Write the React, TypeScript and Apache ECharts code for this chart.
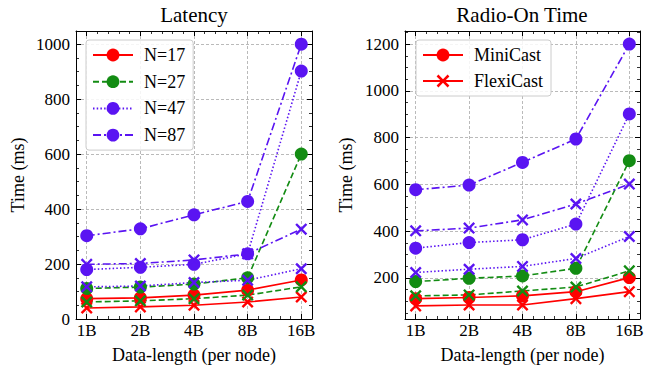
import React, { useEffect, useRef } from 'react';
import * as echarts from 'echarts';

// ---------- data ----------
const categories = ['1B', '2B', '4B', '8B', '16B'];
const latencyTicks = [0, 200, 400, 600, 800, 1000];
const radioTicks = [200, 400, 600, 800, 1000, 1200];

// Latency (ms)
const lat17Mini = [74, 77, 87, 105, 142];
const lat17Flexi = [40, 44, 50, 62, 80];
const lat27Mini = [111, 116, 127, 150, 600];
const lat27Flexi = [62, 66, 74, 87, 117];
const lat47Mini = [180, 188, 199, 237, 902];
const lat47Flexi = [117, 120, 133, 141, 183];
const lat87Mini = [303, 328, 379, 428, 1000];
const lat87Flexi = [199, 202, 215, 237, 327];

// Radio-on time (ms)
const rad17Mini = [111, 116, 123, 141, 201];
const rad17Flexi = [80, 84, 84, 111, 141];
const rad27Mini = [184, 198, 208, 241, 701];
const rad27Flexi = [123, 127, 144, 161, 230];
const rad47Mini = [327, 351, 363, 430, 901];
const rad47Flexi = [223, 237, 249, 283, 377];
const rad87Mini = [577, 597, 694, 794, 1200];
const rad87Flexi = [401, 413, 448, 516, 601];

// ---------- styles ----------
const RED = '#ff0000';
const GREEN = '#138c13';
const PURPLE = '#5a14f2';
const FONT = '"Liberation Serif", "Times New Roman", serif';
const CROSS =
  'path://M0,1.4L1.4,0L5,3.6L8.6,0L10,1.4L6.4,5L10,8.6L8.6,10L5,6.4L1.4,10L0,8.6L3.6,5Z';

const groups = [
  { label: 'N=17', color: RED, dash: 'solid' as any },
  { label: 'N=27', color: GREEN, dash: [6, 3] },
  { label: 'N=47', color: PURPLE, dash: [1.5, 2.2] },
  { label: 'N=87', color: PURPLE, dash: [8, 3, 2, 3] },
];

const latMini = [lat17Mini, lat27Mini, lat47Mini, lat87Mini];
const latFlexi = [lat17Flexi, lat27Flexi, lat47Flexi, lat87Flexi];
const radMini = [rad17Mini, rad27Mini, rad47Mini, rad87Mini];
const radFlexi = [rad17Flexi, rad27Flexi, rad47Flexi, rad87Flexi];

const X_MIN = -0.2;
const X_MAX = 4.2;
const xMajor = categories.map((_, i) => i);
const xMinor: number[] = [];
for (let k = -1; k <= 21; k++) {
  const v = Math.round(k * 20) / 100;
  if (k % 5 !== 0 && v > X_MIN && v < X_MAX) xMinor.push(v);
}
function yMinorList(min: number, max: number) {
  const out: number[] = [];
  for (let v = 0; v <= max; v += 50) if (v % 200 !== 0 && v > min && v < max) out.push(v);
  return out;
}

const LAT_MIN = 0, LAT_MAX = 1048;
const RAD_MIN = 24, RAD_MAX = 1256;

const black = '#000';

function xAxesFor(gridIndex: number) {
  const base = { type: 'value', gridIndex, min: X_MIN, max: X_MAX, splitLine: { show: false }, axisLabel: { show: false } };
  return [
    {
      ...base,
      position: 'bottom',
      axisLine: { show: true, onZero: false, lineStyle: { color: black, width: 1 } },
      axisTick: { show: true, inside: true, length: 5, customValues: xMajor, lineStyle: { color: black, width: 1 } },
      axisLabel: {
        show: true,
        customValues: xMajor,
        formatter: (v: number) => categories[Math.round(v)],
        color: black,
        fontSize: 17,
        fontFamily: FONT,
        margin: 3,
      },
      splitLine: { show: true, lineStyle: { type: [3, 2], color: '#a8a8a8', width: 0.8 } },
      name: 'Data-length (per node)',
      nameLocation: 'middle',
      nameGap: 27,
      nameTextStyle: { color: black, fontSize: 18, fontFamily: FONT },
    },
    {
      ...base,
      position: 'bottom',
      axisLine: { show: false, onZero: false },
      axisTick: { show: true, inside: true, length: 3, customValues: xMinor, lineStyle: { color: black, width: 0.8 } },
    },
    {
      ...base,
      position: 'top',
      axisLine: { show: true, onZero: false, lineStyle: { color: black, width: 1 } },
      axisTick: { show: true, inside: true, length: 5, customValues: xMajor, lineStyle: { color: black, width: 1 } },
    },
    {
      ...base,
      position: 'top',
      axisLine: { show: false, onZero: false },
      axisTick: { show: true, inside: true, length: 3, customValues: xMinor, lineStyle: { color: black, width: 0.8 } },
    },
  ];
}

function yAxesFor(gridIndex: number, min: number, max: number, ticks: number[], nameGap: number) {
  const minor = yMinorList(min, max);
  const base = { type: 'value', gridIndex, min, max, splitLine: { show: false }, axisLabel: { show: false } };
  return [
    {
      ...base,
      position: 'left',
      axisLine: { show: true, onZero: false, lineStyle: { color: black, width: 1 } },
      axisTick: { show: true, inside: true, length: 5, customValues: ticks, lineStyle: { color: black, width: 1 } },
      axisLabel: {
        show: true,
        customValues: ticks,
        formatter: (v: number) => String(Math.round(v)),
        color: black,
        fontSize: 17,
        fontFamily: FONT,
        margin: 6,
      },
      splitLine: { show: true, lineStyle: { type: [3, 2], color: '#a8a8a8', width: 0.8 } },
      name: 'Time (ms)',
      nameLocation: 'middle',
      nameGap,
      nameTextStyle: { color: black, fontSize: 18, fontFamily: FONT },
    },
    {
      ...base,
      position: 'left',
      axisLine: { show: false, onZero: false },
      axisTick: { show: true, inside: true, length: 3, customValues: minor, lineStyle: { color: black, width: 0.8 } },
    },
    {
      ...base,
      position: 'right',
      axisLine: { show: true, onZero: false, lineStyle: { color: black, width: 1 } },
      axisTick: { show: true, inside: true, length: 5, customValues: ticks, lineStyle: { color: black, width: 1 } },
    },
    {
      ...base,
      position: 'right',
      axisLine: { show: false, onZero: false },
      axisTick: { show: true, inside: true, length: 3, customValues: minor, lineStyle: { color: black, width: 0.8 } },
    },
  ];
}

function seriesFor(
  axisIndex: number,
  mini: number[][],
  flexi: number[][],
  miniNames: string[],
  flexiNames: string[]
) {
  const out: any[] = [];
  groups.forEach((g, gi) => {
    const common = {
      type: 'line',
      xAxisIndex: axisIndex,
      yAxisIndex: axisIndex,
      lineStyle: { color: g.color, width: 1.6, type: g.dash },
      itemStyle: { color: g.color },
      emphasis: { disabled: true },
      silent: true,
    };
    out.push({
      ...common,
      name: flexiNames[gi],
      symbol: CROSS,
      symbolSize: 12,
      data: flexi[gi].map((v, i) => [i, v]),
    });
    out.push({
      ...common,
      name: miniNames[gi],
      symbol: 'circle',
      symbolSize: 13,
      data: mini[gi].map((v, i) => [i, v]),
    });
  });
  return out;
}

const legendBase = {
  orient: 'vertical',
  itemWidth: 40,
  itemHeight: 16,
  padding: [6, 8, 6, 6],
  borderColor: '#cccccc',
  borderWidth: 1,
  borderRadius: 3,
  backgroundColor: 'rgba(255,255,255,0.85)',
  selectedMode: false,
  textStyle: { fontFamily: FONT, fontSize: 18, color: black, padding: [0, 0, 0, 6] },
};

export default function App() {
  const ref = useRef<HTMLDivElement>(null);
  useEffect(() => {
    if (!ref.current) return;
    const chart = echarts.init(ref.current, undefined, { renderer: 'svg' });
    const option: any = {
      animation: false,
      backgroundColor: '#ffffff',
      textStyle: { fontFamily: FONT },
      grid: [
        { left: 76, top: 31, width: 236, height: 288 },
        { left: 405, top: 31, width: 235, height: 288 },
      ],
      xAxis: [...xAxesFor(0), ...xAxesFor(1)],
      yAxis: [
        ...yAxesFor(0, LAT_MIN, LAT_MAX, latencyTicks, 49),
        ...yAxesFor(1, RAD_MIN, RAD_MAX, radioTicks, 50),
      ],
      legend: [
        { ...legendBase, left: 86, top: 40, itemGap: 8.7, data: groups.map((g) => g.label) },
        { ...legendBase, left: 416, top: 40, itemGap: 8, data: ['MiniCast', 'FlexiCast'] },
      ],
      graphic: [
        {
          type: 'text',
          x: 194,
          y: 15,
          style: { text: 'Latency', fontFamily: FONT, fontSize: 21, fill: black, textAlign: 'center', textVerticalAlign: 'middle' },
        },
        {
          type: 'text',
          x: 522,
          y: 15,
          style: { text: 'Radio-On Time', fontFamily: FONT, fontSize: 21, fill: black, textAlign: 'center', textVerticalAlign: 'middle' },
        },
      ],
      series: [
        ...seriesFor(0, latMini, latFlexi, groups.map((g) => g.label), groups.map((g) => g.label + ' FlexiCast (latency)')),
        ...seriesFor(
          4,
          radMini,
          radFlexi,
          ['MiniCast', 'N=27 MiniCast', 'N=47 MiniCast', 'N=87 MiniCast'],
          ['FlexiCast', 'N=27 FlexiCast', 'N=47 FlexiCast', 'N=87 FlexiCast']
        ),
      ],
    };
    chart.setOption(option);
    return () => chart.dispose();
  }, []);
  return (
    <div
      ref={ref}
      style={{ position: 'absolute', left: 0, top: 0, width: 647, height: 375, background: '#fff' }}
    />
  );
}
